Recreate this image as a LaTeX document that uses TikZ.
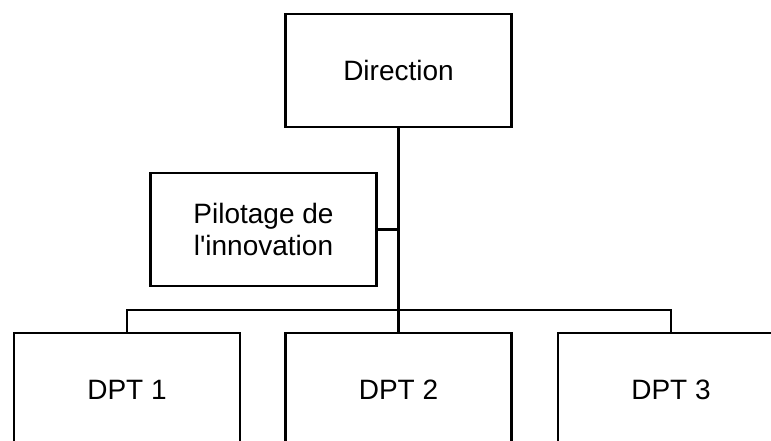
\documentclass[tikz,border=0pt]{standalone}
\usepackage{fontspec}
\setmainfont{Liberation Sans}

\begin{document}
\begin{tikzpicture}[x=1pt, y=-1pt, line width=2.5pt,
    unit/.style={draw, minimum width=226pt, minimum height=113pt, align=center,
      font=\fontsize{28}{32}\selectfont}]
    \useasboundingbox (0, 0) rectangle (771, 441);
    \clip (0, 0) rectangle (771, 441);

    % Draw the boxes
    \node[unit] (direction) at (398.5, 70.5) {Direction};
    \node[unit] (pilotage) at (263.5, 229.5) {Pilotage de\\l\textquotesingle innovation};
    \node[unit] (dpt1) at (127, 389.5) {DPT 1};
    \node[unit] (dpt2) at (398.5, 389.5) {DPT 2};
    \node[unit] (dpt3) at (671, 389.5) {DPT 3};

    % Draw the links
    \coordinate (bus) at (398.5, 310);
    \draw (direction.south) -- (dpt2.north);
    \draw (pilotage.east) -- (pilotage.east -| direction.south);
    \draw (dpt1.north) |- (bus) -| (dpt3.north);
\end{tikzpicture}
\end{document}
